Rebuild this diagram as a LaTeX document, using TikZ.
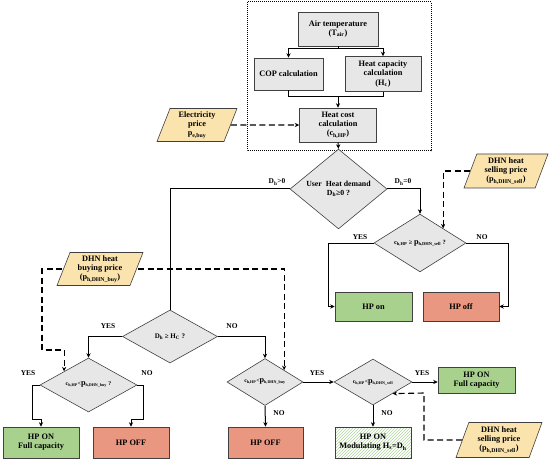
\documentclass[tikz,border=0pt]{standalone}
\usepackage{fontspec}
\setmainfont{Liberation Serif}
\usetikzlibrary{shapes.geometric,arrows.meta,patterns}
\definecolor{boxgray}{HTML}{E7E7E7}
\definecolor{edgegray}{HTML}{404040}
\definecolor{hpgreen}{HTML}{A9D18E}
\definecolor{hpred}{HTML}{E99780}
\definecolor{inputyellow}{HTML}{FBE3AE}
\definecolor{hatchgreen}{HTML}{B5D6A0}
\newcommand{\bigp}{{\fontsize{8.2}{8.6}\selectfont p}}
\begin{document}
\begin{tikzpicture}[x=1pt,y=-1pt,
  basefont/.style={font=\bfseries\fontsize{8.3}{9.2}\selectfont},
  procbox/.style={basefont,rectangle,draw=edgegray,line width=0.6pt,fill=boxgray,align=center,inner sep=1pt},
  onbox/.style={procbox,fill=hpgreen},
  offbox/.style={procbox,fill=hpred},
  modbox/.style={procbox,fill=white,pattern=north east lines,pattern color=hatchgreen},
  inbox/.style={basefont,trapezium,trapezium left angle=64,trapezium right angle=116,trapezium stretches body,draw=edgegray,line width=0.6pt,fill=inputyellow,align=center,inner sep=0pt},
  decide/.style={diamond,draw=edgegray,line width=0.6pt,fill=boxgray,align=center,inner sep=0pt},
  flow/.style={draw=black,line width=1pt,-{Stealth[length=4.5pt,width=4.2pt]}},
  flowline/.style={draw=black,line width=1pt},
  dflow/.style={draw=black,line width=1.1pt,dash pattern=on 6pt off 3.5pt,-{Stealth[length=4.5pt,width=4.2pt]}},
  lbl/.style={font=\bfseries\fontsize{7.4}{8}\selectfont,inner sep=0pt}
]
\useasboundingbox (0,0) rectangle (550,460);
\fill[white] (0,0) rectangle (550,460);

% dotted group
\draw[line width=1pt,dash pattern=on 1pt off 1pt] (247,2) rectangle (431,151);

% top group nodes
\node[procbox,minimum width=80,minimum height=34] (air) at (338,29) {Air temperature\\(T\textsubscript{air})};
\node[procbox,minimum width=69,minimum height=32] (cop) at (288.5,74) {COP calculation};
\node[procbox,minimum width=76,minimum height=35] (heatcap) at (383,74) {Heat capacity\\calculation\\(H\textsubscript{c})};
\node[procbox,minimum width=77,minimum height=34] (heatcost) at (338,125) {Heat cost\\calculation\\(c\textsubscript{h,HP})};
\coordinate (br1) at (338,49);
\coordinate (jn) at (338,97);

\node[inbox,minimum width=80,minimum height=33] (elec) at (197,125) {Electricity\\price\\\bigp\textsubscript{e,buy}};

% first decision
\node[decide,minimum width=97,minimum height=54,font=\bfseries\fontsize{7.8}{9}\selectfont] (udem) at (338.5,189) {User~ Heat demand\\D\textsubscript{h}≥0 ?};
\node[inbox,minimum width=84,minimum height=34] (sell1) at (506,171) {DHN heat\\selling price\\(\bigp\textsubscript{h,DHN\_sell})};
\node[decide,minimum width=92,minimum height=48,font=\bfseries\fontsize{6.4}{7.4}\selectfont] (cge) at (420,243) {c\textsubscript{h,HP} ≥ \bigp\textsubscript{h,DHN\_sell} ?};
\node[onbox,minimum width=77,minimum height=29] (hpon) at (373.5,306.5) {HP on};
\node[offbox,minimum width=76,minimum height=29] (hpoff) at (461,306.5) {HP off};
\coordinate (y1) at (328,243);
\coordinate (n1) at (508,243);

% left part
\coordinate (dl2) at (42,350);
\node[decide,minimum width=95,minimum height=53,font=\bfseries\fontsize{7}{8}\selectfont] (dhc) at (170,336.5) {D\textsubscript{h} ≥ H\textsubscript{C} ?};
\node[decide,minimum width=97,minimum height=54,font=\bfseries\fontsize{5.8}{7}\selectfont] (cbl) at (88.5,385) {c\textsubscript{h,HP}<\bigp\textsubscript{h,DHN\_buy} ?};
\node[decide,minimum width=76,minimum height=44,font=\bfseries\fontsize{5.8}{7}\selectfont] (cbm) at (265,382) {c\textsubscript{h,HP}<\bigp\textsubscript{h,DHN\_buy}};
\node[decide,minimum width=78,minimum height=44,font=\bfseries\fontsize{5.8}{7}\selectfont] (csm) at (373,382) {c\textsubscript{h,HP}<\bigp\textsubscript{h,DHN\_sell}};
\node[onbox,minimum width=77,minimum height=26] (hpfull1) at (476.5,380) {HP ON\\Full capacity};
\node[onbox,minimum width=76,minimum height=31] (hpfull2) at (41,442.5) {HP ON\\Full capacity};
\node[offbox,minimum width=76,minimum height=31] (hpoff2) at (131,442.5) {HP OFF};
\node[offbox,minimum width=75,minimum height=31] (hpoff3) at (265.5,442.5) {HP OFF};
\node[modbox,minimum width=76,minimum height=31] (hpmod) at (373,442.5) {HP ON\\Modulating H\textsubscript{s}=D\textsubscript{h}};
\coordinate (a1) at (32,419);
\coordinate (a2) at (143,419);
\coordinate (dc) at (424,393);

% dashed from buying price (drawn before its node so the node sits on top)
\path (100,269) coordinate (buyc);
\draw[dflow] (buyc) -| (dl2) -| (cbl.north west);
\draw[dflow] (buyc) -| (cbm.north east);
\node[inbox,minimum width=86,minimum height=33] (buy) at (buyc) {DHN heat\\buying price\\(\bigp\textsubscript{h,DHN\_buy})};

\node[inbox,minimum width=86,minimum height=35] (sell2) at (499,440) {DHN heat\\selling price\\(\bigp\textsubscript{h,DHN\_sell})};

% connectors top
\draw[flowline] (air.south) -- (br1);
\draw[flow] (br1) -| (cop.north);
\draw[flow] (br1) -| (heatcap.north);
\draw[flowline] (cop.south) |- (jn);
\draw[flowline] (heatcap.south) |- (jn);
\draw[flow] (jn) -- (heatcost.north);
\draw[flow] (heatcost.south) -- (udem.north);
\draw[dflow] (elec.east) -- (heatcost.west);

\draw[flowline] (udem.west) -| (dhc.north);
\draw[flow] (udem.east) -| (cge.north);
\draw[dflow] (sell1.west) -| (cge.north east);
\draw[flow] (cge.west) -- (y1) |- (hpon.west);
\draw[flow] (cge.east) -- (n1) |- (hpoff.east);

\draw[flow] (dhc.west) -| (cbl.north);
\draw[flow] (dhc.east) -| (cbm.north);
\draw[flow] (cbl.west) -| (a1) -| (hpfull2.north);
\draw[flow] (cbl.east) -| (a2) -| (hpoff2.north);
\draw[flow] (cbm.east) -- (csm.west);
\draw[flow] (csm.east) -- (csm.east -| hpfull1.west);
\draw[flow] (cbm.south) -- (hpoff3.north);
\draw[flow] (csm.south) -- (hpmod.north);
\draw[dflow] (sell2.west) -| (dc) -- (csm.south east);

% labels
\node[lbl] (l1) at (277,182) {D\textsubscript{h}>0};
\node[lbl] (l2) at (403,182) {D\textsubscript{h}=0};
\node[lbl] (l3) at (360,237) {YES};
\node[lbl] (l4) at (482,237) {NO};
\node[lbl] (l5) at (108,326) {YES};
\node[lbl] (l6) at (232,326) {NO};
\node[lbl] (l7) at (28,373) {YES};
\node[lbl] (l8) at (147,373) {NO};
\node[lbl] (l9) at (317,373) {YES};
\node[lbl] (l10) at (422,373) {YES};
\node[lbl] (l11) at (279,413) {NO};
\node[lbl] (l12) at (387,413) {NO};
\end{tikzpicture}
\end{document}
